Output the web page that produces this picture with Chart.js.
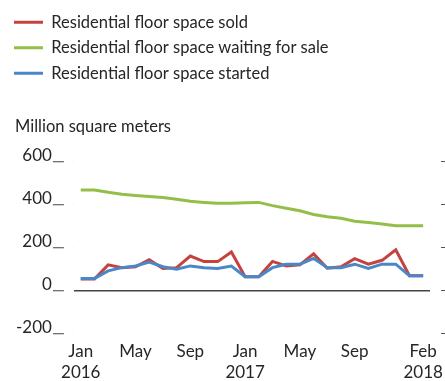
<!DOCTYPE html>
<html>
<head>
<meta charset="utf-8">
<script src="https://cdn.jsdelivr.net/npm/chart.js@4"></script>
<style>
  html, body { margin: 0; padding: 0; background: #fff; }
  #wrap { position: relative; width: 445px; height: 381px; }
</style>
</head>
<body>
<div id="wrap"><canvas id="myChart"></canvas></div>
<script>
// monthly, Jan 2016 .. Feb 2018
const months = ['Jan 2016','Feb 2016','Mar 2016','Apr 2016','May 2016','Jun 2016','Jul 2016','Aug 2016',
                'Sep 2016','Oct 2016','Nov 2016','Dec 2016','Jan 2017','Feb 2017','Mar 2017','Apr 2017',
                'May 2017','Jun 2017','Jul 2017','Aug 2017','Sep 2017','Oct 2017','Nov 2017','Dec 2017',
                'Jan 2018','Feb 2018'];
// which months get a label on the axis
const tickLabels = {0: ['Jan','2016'], 4: ['May'], 8: ['Sep'], 12: ['Jan','2017'],
                    16: ['May'], 20: ['Sep'], 25: ['Feb','2018']};

const soldValues    = [53,53,119,106,110,143,102,106,160,134,134,179,64,64,135,114,119,170,103,110,148,122,140,189,68,68];
const waitingValues = [467,467,456,447,441,436,432,424,414,409,405,405,408,409,394,382,370,353,342,335,322,316,309,301,301,301];
const startedValues = [56,56,91,106,114,132,110,99,114,106,102,113,64,64,106,122,122,149,106,106,122,102,122,122,68,68];

const yTicks = [-200, 0, 200, 400, 600];

const FONT = 'Lato, "Open Sans", sans-serif';
const TXT = '#262626';

// legend sits a bit further left than the title / axis labels
const nudgeLegend = {
  id: 'nudgeLegend',
  afterLayout: function (chart) {
    chart.legend.left -= 10;
    chart.legend.right -= 10;
  }
};

new Chart('myChart', {
  type: 'line',
  data: {
    labels: months,
    datasets: [{
      label: 'Residential floor space sold',
      data: soldValues,
      borderColor: '#c4433e',
      backgroundColor: '#c4433e',
      borderWidth: 3,
      order: 1
    }, {
      label: 'Residential floor space waiting for sale',
      data: waitingValues,
      borderColor: '#93bf48',
      backgroundColor: '#93bf48',
      borderWidth: 3,
      order: 2
    }, {
      label: 'Residential floor space started',
      data: startedValues,
      borderColor: '#4a87c9',
      backgroundColor: '#4a87c9',
      borderWidth: 3,
      order: 0
    }]
  },
  plugins: [nudgeLegend],
  options: {
    responsive: true,
    maintainAspectRatio: false,
    animation: false,
    elements: {
      line: { borderWidth: 3, tension: 0, fill: false },
      point: { radius: 0, hoverRadius: 0 }
    },
    layout: { padding: { left: 15, top: 5, right: 0, bottom: 0 } },
    plugins: {
      tooltip: { enabled: false },
      legend: {
        position: 'top',
        align: 'start',
        labels: {
          usePointStyle: true,
          pointStyle: 'line',
          pointStyleWidth: 29,
          padding: 9,
          color: TXT,
          font: { family: FONT, size: 16.5 },
          sort: (a, b) => a.datasetIndex - b.datasetIndex
        }
      },
      title: {
        display: true,
        text: 'Million square meters',
        align: 'start',
        weight: 500,
        color: TXT,
        font: { family: FONT, size: 16.5, weight: 'normal' },
        padding: { top: 25, bottom: 25 }
      }
    },
    scales: {
      x: {
        type: 'category',
        offset: true,
        grid: { display: false },
        border: { display: false },
        ticks: {
          autoSkip: false,
          maxRotation: 0,
          padding: 0,
          color: TXT,
          font: { family: FONT, size: 17, lineHeight: 1.22 },
          callback: function (v, i) { return tickLabels[i] || ''; }
        },
        afterFit: function (s) { s.height = 47.5; }
      },
      y: {
        position: 'left',
        min: -200,
        max: 600,
        afterBuildTicks: function (s) { s.ticks = yTicks.map(v => ({ value: v })); },
        border: { display: false },
        grid: {
          drawOnChartArea: true,
          color: ctx => (ctx.tick && ctx.tick.value === 0) ? '#444' : 'rgba(0,0,0,0)',
          lineWidth: 1.5,
          tickColor: '#444',
          tickLength: 21,
          tickWidth: 1,
          tickBorderDash: [11, 10],
          tickBorderDashOffset: 0
        },
        ticks: {
          padding: 1,
          labelOffset: -6,
          color: TXT,
          font: { family: FONT, size: 17 }
        }
      },
      y2: {
        position: 'right',
        min: -200,
        max: 600,
        afterBuildTicks: function (s) { s.ticks = yTicks.map(v => ({ value: v })); },
        border: { display: false },
        grid: {
          drawOnChartArea: false,
          tickColor: '#555',
          tickLength: 15,
          tickBorderDash: [4, 11],
          tickBorderDashOffset: 4
        },
        ticks: { display: false }
      }
    }
  }
});
</script>
</body>
</html>
